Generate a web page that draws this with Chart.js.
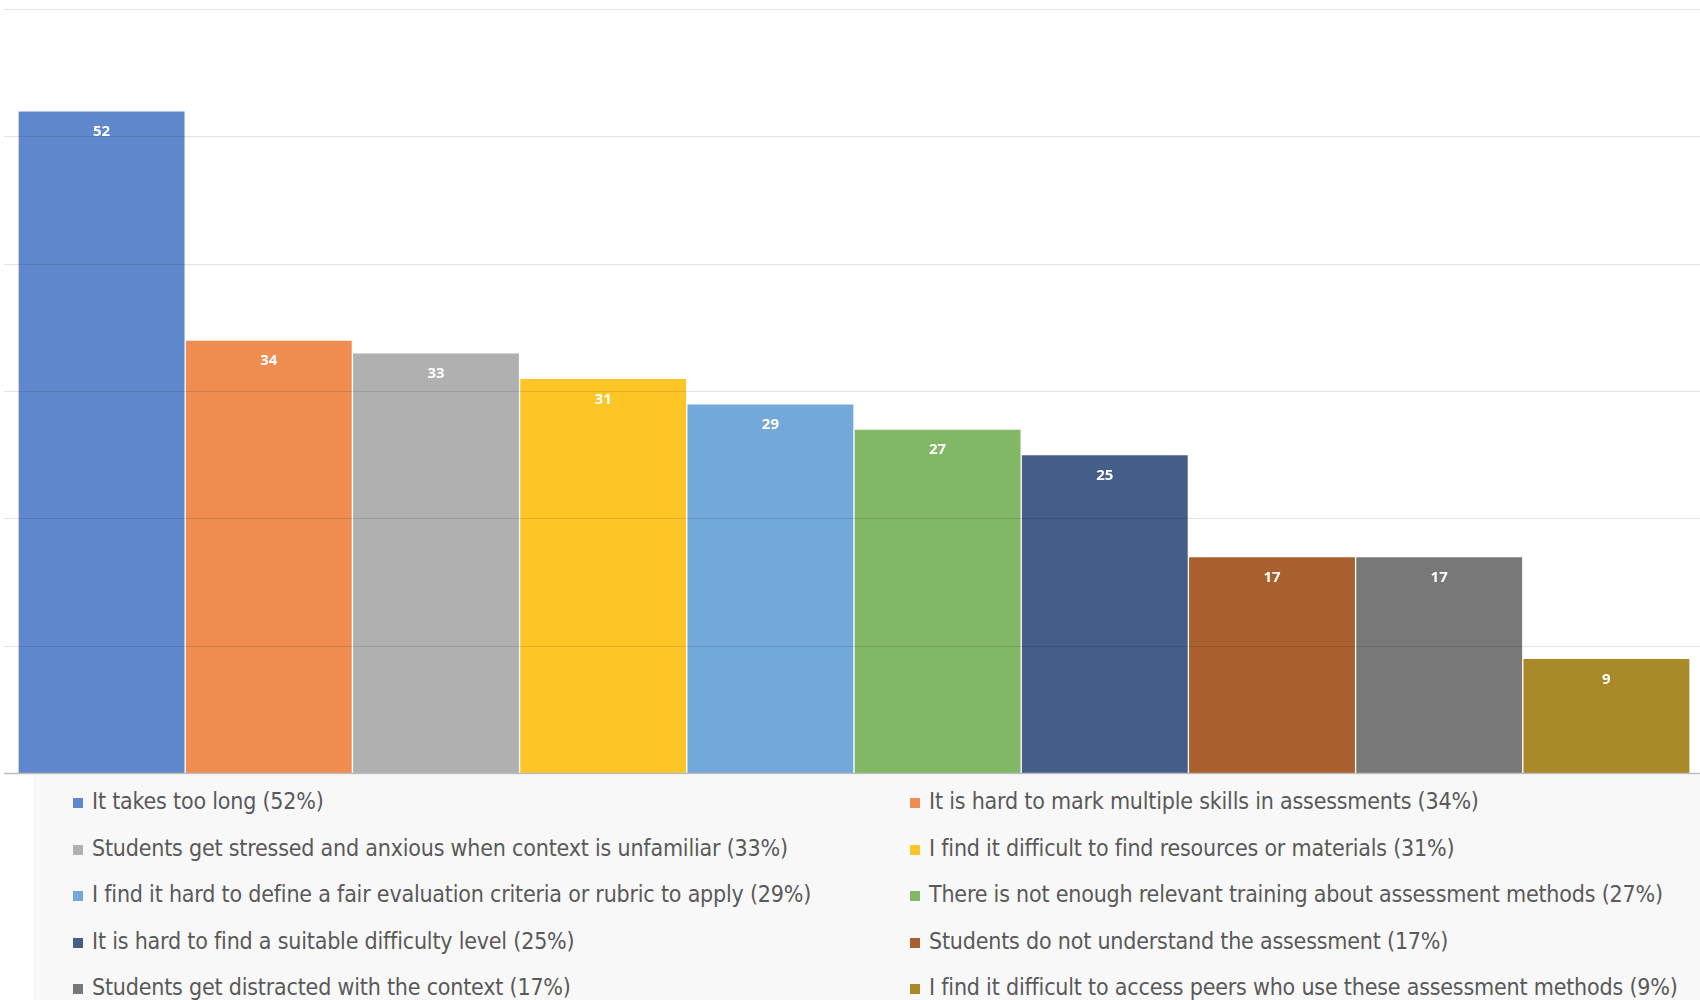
<!DOCTYPE html>
<html>
<head>
<meta charset="utf-8">
<script src="https://cdn.jsdelivr.net/npm/chart.js@4.4.1/dist/chart.umd.min.js"></script>
<style>
  html, body { margin: 0; padding: 0; background: #ffffff; }
  #wrap { position: relative; width: 1700px; height: 1000px; overflow: hidden; }
  #plot { position: absolute; left: 0; top: 0; width: 1700px; height: 775px; }
  #legend { position: absolute; left: 33px; top: 775px; right: 0; bottom: 0; background: #f8f8f8; }
  .item { position: absolute; height: 30px; line-height: 30px; white-space: nowrap;
          font-family: 'Liberation Sans Narrow', 'DejaVu Sans Condensed', 'Liberation Sans', sans-serif;
          font-size: 23px; letter-spacing: -0.2px; color: #595959; }
  .item .box { display: inline-block; width: 10px; height: 10px; margin-right: 9px; vertical-align: 1px; }
</style>
</head>
<body>
<div id="wrap">
  <div id="plot"><canvas id="c" width="1700" height="775"></canvas></div>
  <div id="legend"></div>
</div>
<script>
// Reasons given, and share of respondents (%) for each
const categories = [
  'It takes too long',
  'It is hard to mark multiple skills in assessments',
  'Students get stressed and anxious when context is unfamiliar',
  'I find it difficult to find resources or materials',
  'I find it hard to define a fair evaluation criteria or rubric to apply',
  'There is not enough relevant training about assessment methods',
  'It is hard to find a suitable difficulty level',
  'Students do not understand the assessment',
  'Students get distracted with the context',
  'I find it difficult to access peers who use these assessment methods'
];
const values = [52, 34, 33, 31, 29, 27, 25, 17, 17, 9];
const colors = ['#5f87cb', '#ee8d4f', '#b0b0b0', '#fdc526', '#72a8da',
                '#82b765', '#445e8a', '#a95f2e', '#787878', '#a88827'];
const yTicks = [0, 10, 20, 30, 40, 50, 60];

// Horizontal gridlines drawn over the bars, running the full canvas width
const gridOverlay = {
  id: 'gridOverlay',
  afterDatasetsDraw(chart) {
    const { ctx } = chart;
    const y = chart.scales.y;
    ctx.save();
    yTicks.forEach(v => {
      const py = Math.round(y.getPixelForValue(v)) + 0.5;
      ctx.beginPath();
      ctx.strokeStyle = v === 0 ? '#bcbcbc' : 'rgba(0,0,0,0.11)';
      ctx.lineWidth = v === 0 ? 1.5 : 1;
      ctx.moveTo(4, py);
      ctx.lineTo(chart.width, py);
      ctx.stroke();
    });
    ctx.restore();
  }
};

// Value printed inside the top of each bar
const valueLabels = {
  id: 'valueLabels',
  afterDatasetsDraw(chart) {
    const { ctx } = chart;
    const meta = chart.getDatasetMeta(0);
    ctx.save();
    ctx.fillStyle = '#ffffff';
    ctx.font = 'bold 15px "Open Sans", "Liberation Sans", sans-serif';
    ctx.textAlign = 'center';
    ctx.textBaseline = 'middle';
    meta.data.forEach((bar, i) => {
      ctx.fillText(String(chart.data.datasets[0].data[i]), bar.x, bar.y + 21);
    });
    ctx.restore();
  }
};

const chart = new Chart(document.getElementById('c'), {
  type: 'bar',
  data: {
    labels: categories,
    datasets: [{
      data: values,
      backgroundColor: colors,
      borderColor: 'rgba(255,255,255,0.5)',
      borderWidth: 1,
      categoryPercentage: 1.0,
      barPercentage: 1.0
    }]
  },
  options: {
    responsive: false,
    animation: false,
    layout: { padding: { left: 18, right: 10, top: 9, bottom: 2 } },
    plugins: { legend: { display: false }, tooltip: { enabled: false } },
    scales: {
      x: { display: false },
      y: { display: false, min: 0, max: 60 }
    }
  },
  plugins: [gridOverlay, valueLabels]
});

// Two-column legend below the plot
const legend = document.getElementById('legend');
categories.forEach((name, i) => {
  const col = i % 2, row = Math.floor(i / 2);
  const item = document.createElement('div');
  item.className = 'item';
  item.style.left = (col === 0 ? 40 : 877) + 'px';
  item.style.top = (11 + row * 46.5) + 'px';
  const box = document.createElement('span');
  box.className = 'box';
  box.style.background = colors[i];
  item.appendChild(box);
  item.appendChild(document.createTextNode(name + ' (' + values[i] + '%)'));
  legend.appendChild(item);
});
</script>
</body>
</html>
